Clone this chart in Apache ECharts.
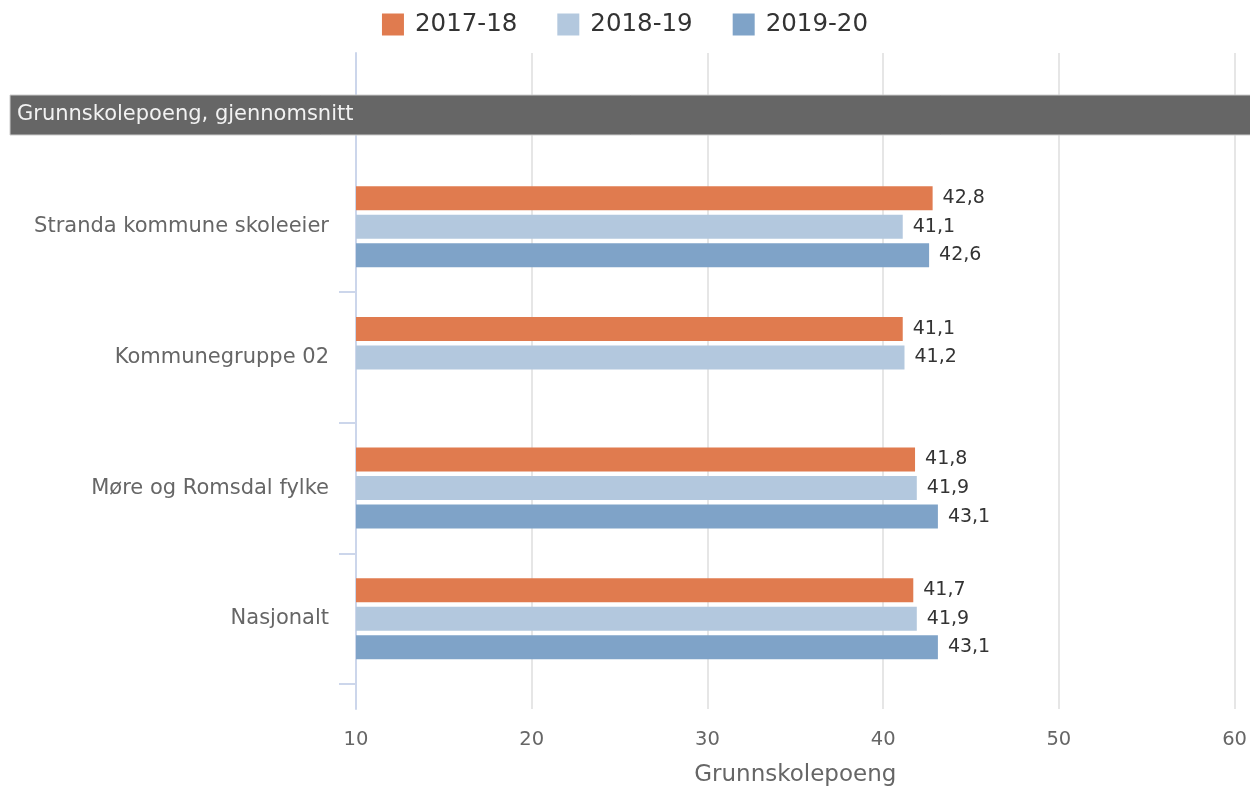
<!DOCTYPE html>
<html>
<head>
<meta charset="utf-8">
<script src="https://cdn.jsdelivr.net/npm/echarts@6/dist/echarts.min.js"></script>
<style>
  html, body { margin: 0; padding: 0; background: #fff; }
  #main { width: 1250px; height: 792px; }
</style>
</head>
<body>
<div id="main"></div>
<script>
const categories = ['Stranda kommune skoleeier', 'Kommunegruppe 02', 'Møre og Romsdal fylke', 'Nasjonalt'];
const seriesNames = ['2017-18', '2018-19', '2019-20'];
const values1718 = [42.8, 41.1, 41.8, 41.7];
const values1819 = [41.1, 41.2, 41.9, 41.9];
const values1920 = [42.6, '-', 43.1, 43.1];
const xTicks = [10, 20, 30, 40, 50, 60];
const headerText = 'Grunnskolepoeng, gjennomsnitt';
const axisTitle = 'Grunnskolepoeng';

const colors = ['#e07b4f', '#b3c8de', '#7fa3c8'];
const font = 'DejaVu Sans';

const chart = echarts.init(document.getElementById('main'), null, { renderer: 'canvas' });

function makeSeries(name, data) {
  return {
    name: name,
    type: 'bar',
    xAxisIndex: 0,
    yAxisIndex: 0,
    data: data,
    barWidth: 24,
    barGap: '19%',
    label: {
      show: true,
      position: 'right',
      distance: 10,
      color: '#333',
      fontFamily: font,
      fontSize: 19,
      formatter: function (p) {
        return String(p.value).replace('.', ',');
      }
    }
  };
}

var option = {
  animation: false,
  color: colors,
  legend: {
    top: 7,
    left: 'center',
    itemWidth: 22,
    itemHeight: 22,
    itemGap: 40,
    icon: 'rect',
    data: seriesNames,
    textStyle: {
      color: '#333',
      fontFamily: font,
      fontSize: 24.5,
      padding: [0, 0, 0, 6]
    }
  },
  grid: [
    // bars
    { left: 356, right: 15, top: 161.5, bottom: 108 },
    // frame with gridlines
    { left: 356, right: 15, top: 53, bottom: 81 }
  ],
  xAxis: [
    { gridIndex: 0, type: 'value', min: xTicks[0], max: xTicks[xTicks.length - 1], show: false },
    {
      gridIndex: 1,
      type: 'value',
      min: xTicks[0],
      max: xTicks[xTicks.length - 1],
      interval: 10,
      axisLine: { show: false },
      axisTick: { show: false },
      splitLine: { show: true, lineStyle: { color: '#e6e6e6', width: 2 } },
      axisLabel: { color: '#666', fontFamily: font, fontSize: 19.5, margin: 21 },
      name: axisTitle,
      nameLocation: 'middle',
      nameGap: 55,
      nameTextStyle: { color: '#666', fontFamily: font, fontSize: 23 }
    }
  ],
  yAxis: [
    {
      gridIndex: 0,
      type: 'category',
      inverse: true,
      data: categories,
      axisLine: { show: false },
      axisTick: {
        show: true,
        length: 17,
        lineStyle: { color: '#ccd6eb', width: 2 },
        interval: function (index) { return index !== 0; }
      },
      axisLabel: { color: '#666', fontFamily: font, fontSize: 21, margin: 27 }
    },
    {
      gridIndex: 1,
      type: 'value',
      min: 0,
      max: 1,
      axisLine: { show: true, onZero: false, lineStyle: { color: '#ccd6eb', width: 2 } },
      axisTick: { show: false },
      axisLabel: { show: false },
      splitLine: { show: false }
    }
  ],
  graphic: [
    {
      type: 'rect',
      z: 100,
      shape: { x: 10, y: 95, width: 1250, height: 40 },
      style: { fill: '#666666', stroke: '#cccccc', lineWidth: 1 }
    },
    {
      type: 'text',
      z: 101,
      x: 17,
      y: 115,
      style: {
        text: headerText,
        fill: '#f2f2f2',
        font: '21px "DejaVu Sans"',
        verticalAlign: 'middle'
      }
    }
  ],
  series: [
    makeSeries(seriesNames[0], values1718),
    makeSeries(seriesNames[1], values1819),
    makeSeries(seriesNames[2], values1920)
  ]
};

chart.setOption(option);
</script>
</body>
</html>
